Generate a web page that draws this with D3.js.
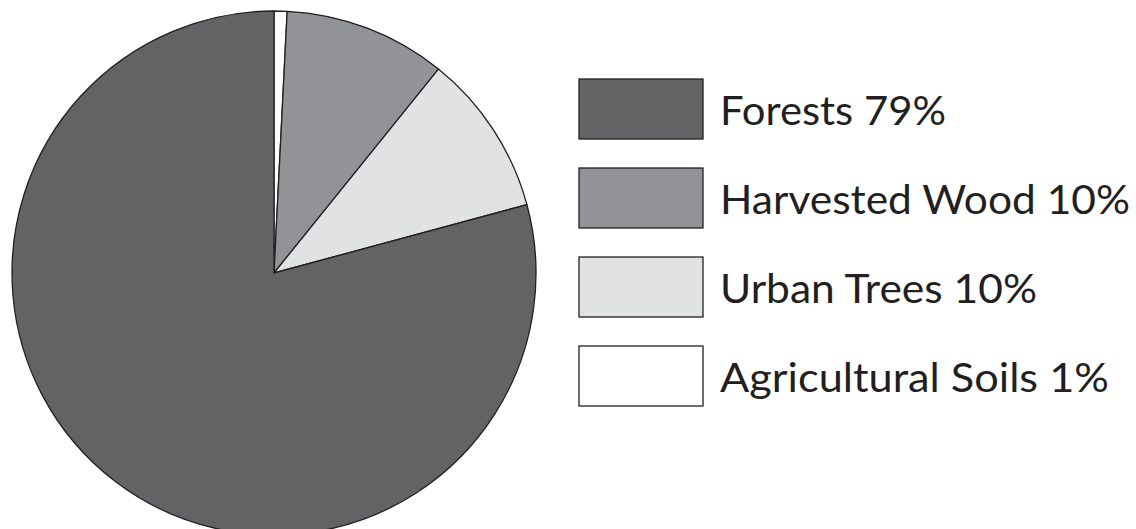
<!DOCTYPE html>
<html>
<head>
<meta charset="utf-8">
<script src="https://cdn.jsdelivr.net/npm/d3@7"></script>
<style>
  html, body { margin: 0; padding: 0; background: #fff; }
  svg { display: block; }
  text { font-family: "Lato", "Open Sans", sans-serif; fill: #231f20; }
</style>
</head>
<body>
<svg id="chart" width="1136" height="529"></svg>
<script>
const categories = ["Forests", "Harvested Wood", "Urban Trees", "Agricultural Soils"];
const values = [79.2, 10.0, 10.0, 0.8];
const labels = ["Forests 79%", "Harvested Wood 10%", "Urban Trees 10%", "Agricultural Soils 1%"];
const colors = ["#636365", "#929397", "#e1e2e4", "#ffffff"];

const svg = d3.select("#chart");
const W = 1136, H = 529;
const cx = 274, cy = 273, R = 262;

const data = categories.map((c, i) => ({ name: c, value: values[i], label: labels[i], color: colors[i] }));
// Pie drawn clockwise from 12 o'clock: Agricultural Soils, Harvested Wood, Urban Trees, Forests
const pieOrder = ["Agricultural Soils", "Harvested Wood", "Urban Trees", "Forests"];
const pieData = pieOrder.map(n => data.find(d => d.name === n));

const pie = d3.pie().sort(null).value(d => d.value);
const arc = d3.arc().innerRadius(0).outerRadius(R);

const g = svg.append("g").attr("transform", `translate(${cx},${cy})`);
g.selectAll("path")
  .data(pie(pieData))
  .join("path")
  .attr("d", arc)
  .attr("fill", d => d.data.color)
  .attr("stroke", "#231f20")
  .attr("stroke-width", 1.3)
  .attr("stroke-linejoin", "round");

// Legend
const y = d3.scaleBand().domain(categories).range([79, 79 + 89 * 4]).paddingInner(0);
const legend = svg.append("g");
const items = legend.selectAll("g")
  .data(data)
  .join("g")
  .attr("transform", d => `translate(579,${y(d.name)})`);
items.append("rect")
  .attr("width", 124)
  .attr("height", 60)
  .attr("fill", d => d.color)
  .attr("stroke", "#231f20")
  .attr("stroke-width", 1.3);
const textWidths = [226, 410, 317, 389];
items.append("text")
  .attr("x", 141)
  .attr("y", 46)
  .attr("font-size", 41)
  .attr("textLength", (d, i) => textWidths[i])
  .attr("lengthAdjust", "spacingAndGlyphs")
  .text(d => d.label);
</script>
</body>
</html>
